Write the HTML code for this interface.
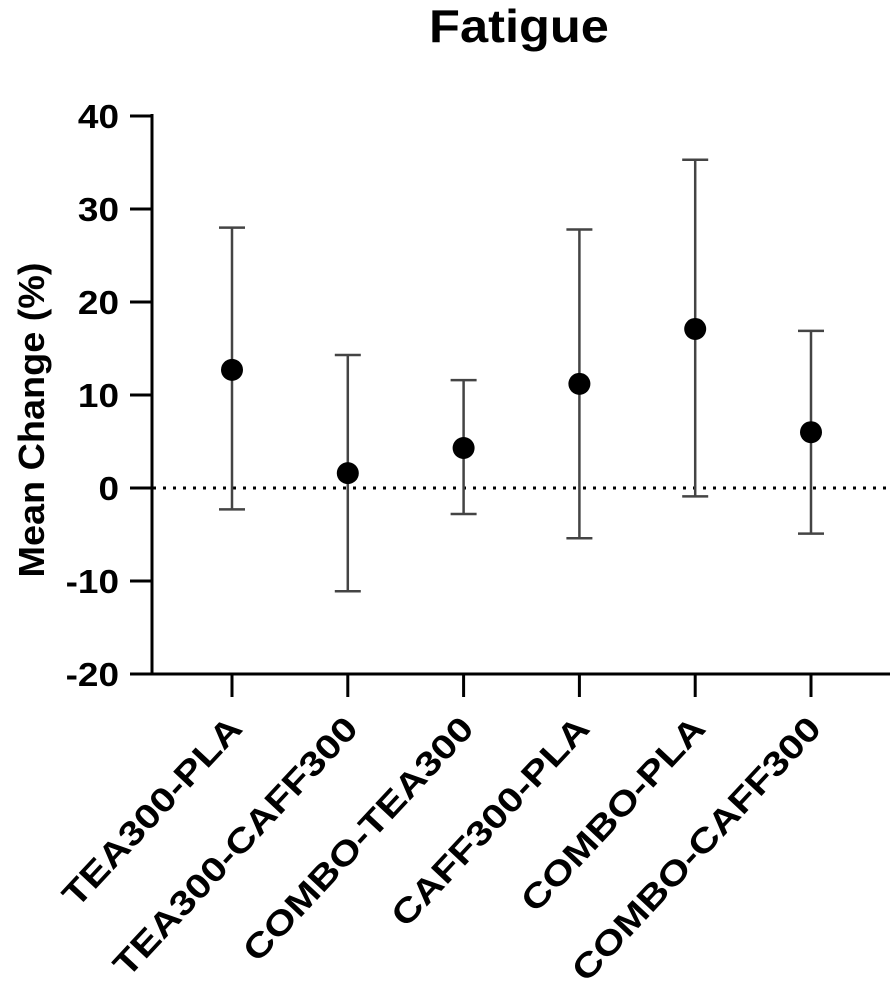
<!DOCTYPE html>
<html><head><meta charset="utf-8"><style>
body{margin:0;background:#fff}
svg text{font-family:"Liberation Sans",Arial,sans-serif;font-weight:bold;fill:#000}
</style></head><body>
<svg id="chart" width="894" height="985" xmlns="http://www.w3.org/2000/svg">
<text transform="translate(519,42) scale(1.1,1)" font-size="46" text-anchor="middle">Fatigue</text>
<text transform="translate(44,420) rotate(-90) scale(1.05,1)" font-size="36" text-anchor="middle">Mean Change (%)</text>
<g id="axes"></g><g id="marks"></g>
</svg>
<script>
const categories=["TEA300-PLA","TEA300-CAFF300","COMBO-TEA300","CAFF300-PLA","COMBO-PLA","COMBO-CAFF300"];
const means=[12.7,1.6,4.3,11.2,17.1,6.0];
const upper=[28.0,14.3,11.6,27.8,35.3,16.9];
const lower=[-2.3,-11.1,-2.8,-5.4,-0.9,-4.9];
const yTicks=[-20,-10,0,10,20,30,40];
const NS="http://www.w3.org/2000/svg";
const y=v=>488-v*9.3;
const x=i=>232+i*115.8;
function mk(t,a,p){const e=document.createElementNS(NS,t);for(const k in a)e.setAttribute(k,a[k]);p.appendChild(e);return e;}
const ax=document.getElementById('axes'),mg=document.getElementById('marks');
let l=mk('line',{x1:152,y1:114,x2:152,y2:675,stroke:'#000','stroke-width':3},ax);

l=mk('line',{x1:150.5,y1:674,x2:890,y2:674,stroke:'#000','stroke-width':3},ax);

l=mk('line',{x1:153,y1:y(0),x2:890,y2:y(0),stroke:'#000','stroke-width':3,'stroke-dasharray':'3 7'},ax);

yTicks.forEach(v=>{
 const t=mk('line',{x1:130,y1:y(v),x2:152,y2:y(v),stroke:'#000','stroke-width':3},ax);
 
 const tx=mk('text',{transform:`translate(119,${y(v)+12}) scale(1.12,1)`,'font-size':33,'text-anchor':'end'},ax);tx.textContent=v;
 
});
categories.forEach((c,i)=>{
 const t=mk('line',{x1:x(i),y1:674,x2:x(i),y2:697,stroke:'#000','stroke-width':3},ax);
 
 const tx=mk('text',{transform:`translate(${x(i)+12},${730}) rotate(-47) scale(1.2,1)`,'font-size':34,'text-anchor':'end'},ax);tx.textContent=c;
 
 const g=mk('g',{},mg);
 
 mk('line',{x1:x(i),y1:y(upper[i]),x2:x(i),y2:y(lower[i]),stroke:'#444','stroke-width':2.5},g);
 mk('line',{x1:x(i)-13,y1:y(upper[i]),x2:x(i)+13,y2:y(upper[i]),stroke:'#444','stroke-width':2.5},g);
 mk('line',{x1:x(i)-13,y1:y(lower[i]),x2:x(i)+13,y2:y(lower[i]),stroke:'#444','stroke-width':2.5},g);
 const p=mk('circle',{cx:x(i),cy:y(means[i]),r:11,fill:'#000'},mg);
 
});
</script>
</body></html>
